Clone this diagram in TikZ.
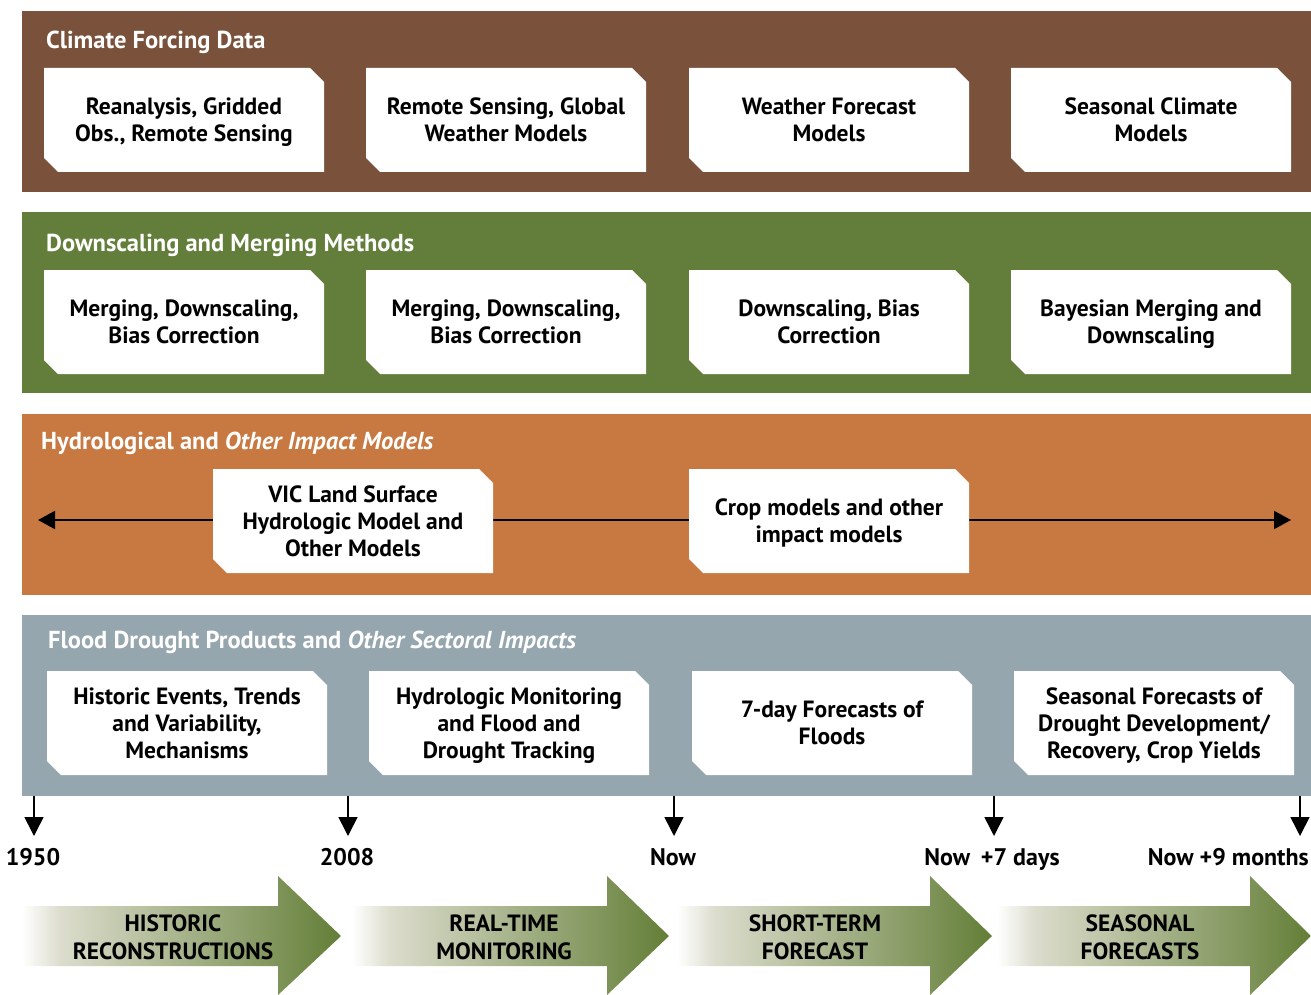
\documentclass[tikz,border=0pt]{standalone}
\usepackage{fontspec}
\setmainfont{PT Sans}
\usetikzlibrary{arrows.meta,shapes.misc}

\definecolor{forcebrown}{HTML}{7A523B}
\definecolor{mergegreen}{HTML}{637E3A}
\definecolor{impactorange}{HTML}{C87941}
\definecolor{productgrey}{HTML}{95A6AE}
\definecolor{phasegreen}{HTML}{637E37}
\definecolor{fadegrey}{HTML}{DCDDCD}

\pgfdeclarehorizontalshading{phasefade}{100bp}{color(0bp)=(white); color(25bp)=(white); color(31bp)=(fadegrey); color(75bp)=(phasegreen); color(100bp)=(phasegreen)}

\newcommand{\boxfont}{\fontsize{23.5}{27}\selectfont\bfseries}
\newcommand{\bandfont}{\fontsize{24.5}{27}\selectfont\bfseries}

\begin{document}
\begin{tikzpicture}[x=1pt,y=-1pt,
    bandtitle/.style={anchor=base west,text=white,font=\bandfont,inner sep=0pt},
    infobox/.style={chamfered rectangle,chamfered rectangle corners={north east,south west},
      chamfered rectangle xsep=7pt,chamfered rectangle ysep=7pt,
      fill=white,minimum width=280pt,minimum height=104pt,align=center,font=\boxfont,inner sep=0pt,
      text depth=-4pt},
    tick/.style={line width=1.6pt,-{Triangle[width=19pt,length=19pt]}},
    ticklabel/.style={anchor=base,font=\fontsize{24}{27}\selectfont\bfseries,inner sep=0pt},
    phase/.style={shading=phasefade},
    phaselabel/.style={align=center,font=\fontsize{23.5}{28}\selectfont\bfseries,inner sep=0pt}]
  \path[use as bounding box] (0,0) rectangle (1311,995);

  % bands
  \fill[forcebrown] (22,11) rectangle (1311,192);
  \fill[mergegreen] (22,212) rectangle (1311,393);
  \fill[impactorange] (22,414) rectangle (1311,595);
  \fill[productgrey] (22,615) rectangle (1311,796);

  \node[bandtitle] (forcing) at (46,49) {Climate Forcing Data};
  \node[bandtitle] (merging) at (46,251) {Downscaling and Merging Methods};
  \node[bandtitle] (impact) at (41,449) {Hydrological and \textit{Other Impact Models}};
  \node[bandtitle] (products) at (48,648) {Flood Drought Products and \textit{Other Sectoral Impacts}};

  % climate forcing
  \node[infobox] (f1) at (184,120) {Reanalysis, Gridded\\Obs., Remote Sensing};
  \node[infobox] (f2) at (506,120) {Remote Sensing, Global\\Weather Models};
  \node[infobox] (f3) at (829,120) {Weather Forecast\\Models};
  \node[infobox] (f4) at (1151,120) {Seasonal Climate\\Models};

  % downscaling
  \node[infobox] (m1) at (184,322) {Merging, Downscaling,\\Bias Correction};
  \node[infobox] (m2) at (506,322) {Merging, Downscaling,\\Bias Correction};
  \node[infobox] (m3) at (829,322) {Downscaling, Bias\\Correction};
  \node[infobox] (m4) at (1151,322) {Bayesian Merging and\\Downscaling};

  % impact models
  \coordinate (past) at (38,520);
  \coordinate (future) at (1291,520);
  \draw[line width=2pt,{Triangle[width=18pt,length=17pt]}-] (past) -- (353,520);
  \draw[line width=2pt] (353,520) -- (829,520);
  \draw[line width=2pt,-{Triangle[width=18pt,length=17pt]}] (829,520) -- (future);
  \node[infobox] (vic) at (353,521) {VIC Land Surface\\Hydrologic Model and\\Other Models};
  \node[infobox] (crop) at (829,521) {Crop models and other\\impact models};

  % products
  \node[infobox] (p1) at (187,723) {Historic Events, Trends\\and Variability,\\Mechanisms};
  \node[infobox] (p2) at (509,723) {Hydrologic Monitoring\\and Flood and\\Drought Tracking};
  \node[infobox] (p3) at (832,723) {7-day Forecasts of\\Floods};
  \node[infobox] (p4) at (1154,723) {Seasonal Forecasts of\\Drought Development/\\Recovery, Crop Yields};

  % timeline
  \foreach \x/\name/\txt in {34/t1950/1950,348/t2008/2008,674/tnow/Now}{
    \coordinate (\name top) at (\x,796);
    \node[ticklabel] (\name) at (\x-1,865) {\txt};
    \draw[tick] (\name top) -- (\x,836);
  }
  \coordinate (tweektop) at (994,796);
  \node[ticklabel] (tweek) at (992,865) {Now\hspace{0.45em}+7 days};
  \draw[tick] (tweektop) -- (994,836);
  \coordinate (tseasontop) at (1300,796);
  \node[ticklabel,anchor=base east] (tseason) at (1309,865) {Now +9 months};
  \draw[tick] (tseasontop) -- (1300,836);

  % phase arrows
  \foreach \xa/\xb/\xc/\xm/\name/\txt in {22/278/341/173/historic/{HISTORIC\\RECONSTRUCTIONS},
      352/607/669/504/realtime/{REAL-TIME\\MONITORING},
      677/930/992/815/shortterm/{SHORT-TERM\\FORECAST},
      997/1250/1311/1140/seasonal/{SEASONAL\\FORECASTS}}{
    \shade[phase] (\xa,906) -- (\xb,906) -- (\xb,876) -- (\xc,936) -- (\xb,995)
      -- (\xb,966) -- (\xa,966) -- cycle;
    \node[phaselabel] (\name) at (\xm,937) {\txt};
  }
\end{tikzpicture}
\end{document}
